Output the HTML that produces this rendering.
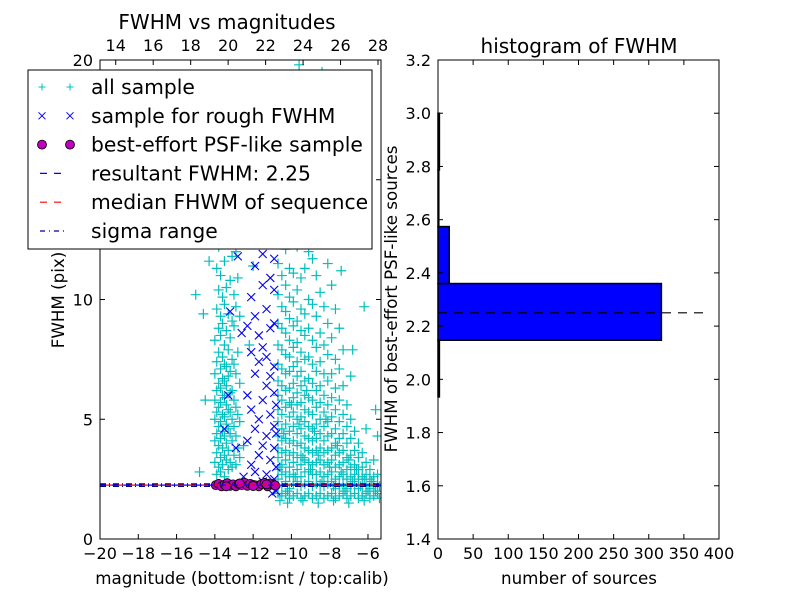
<!DOCTYPE html>
<html><head><meta charset="utf-8">
<style>
html,body{margin:0;padding:0;background:#fff;}
svg{display:block;font-family:"DejaVu Sans","Liberation Sans",sans-serif;}
</style></head>
<body>
<svg id="fig" width="800" height="600" viewBox="0 0 800 600" xmlns="http://www.w3.org/2000/svg">
<rect width="800" height="600" fill="#fff"/>
<g id="left"></g>
<g id="right"></g>
</svg>
<script>
// ---------- data ----------
const xTicksBottom = [-20,-18,-16,-14,-12,-10,-8,-6];
const xTicksTop = [14,16,18,20,22,24,26,28];
const yTicksLeft = [0,5,10,15,20];
const cyanMags = [-14.0,-13.9,-13.8,-13.7,-13.6,-13.5,-13.4,-13.3,-13.2,-13.1,-13.0,-12.9,-12.8,-12.7,
 -10.7,-10.5,-10.3,-10.1,-9.9,-9.7,-9.5,-9.3,-9.1,-8.9,-8.7,-8.5,-8.3,-8.1,-7.9,-7.7,-7.5,-7.3,-7.1,-6.9,-6.7,-6.5,-6.3,-6.1,-5.9,-5.7,-5.5];
const cyanFwhmCols = [
[3.2,4.1,5.0,5.8,6.9,8.3],
[2.7,3.6,4.4,5.3,6.2,7.4,9.6,11.3],
[3.0,3.9,4.7,5.5,6.5,7.8,8.8,10.4,12.2],
[2.8,3.4,4.2,4.9,5.7,6.3,7.1,8.5,9.3,11.0],
[3.1,3.8,4.5,5.2,6.0,6.7,7.6,9.0,10.1],
[2.6,3.5,4.3,5.1,5.9,6.6,7.3,8.1,9.8,11.6,13.0],
[3.3,4.0,4.8,5.6,6.4,7.2,8.7,10.5],
[2.9,3.7,4.6,5.4,6.8,7.9,9.4,12.5],
[3.2,4.4,5.3,6.1,7.0,8.4,10.8],
[3.0,4.1,5.0,6.2,7.5,9.1,11.8,14.0],
[3.5,4.7,5.8,7.3,8.9,10.2],
[3.1,4.3,5.5,6.9,9.7,12.0],
[3.8,5.2,7.8,10.9,13.2],
[3.4,4.9,6.5,9.3],
[1.9,2.5,2.9,3.4,3.8,4.3,4.9,5.4,6.0,6.6,7.3,8.1,9.0,10.2,11.5,12.8],
[1.8,2.2,2.7,3.1,3.6,4.1,4.6,5.2,5.8,6.4,7.1,7.9,8.8,9.7,11.0,13.4],
[1.9,2.4,2.8,3.3,3.7,4.2,4.8,5.5,6.2,6.9,7.7,8.6,9.5,10.6,12.1,14.7],
[1.7,2.1,2.6,3.0,3.5,4.0,4.5,5.1,5.7,6.3,7.0,7.6,8.3,9.2,10.1,11.3,12.6,15.8],
[1.8,2.3,2.7,3.2,3.6,4.1,4.7,5.3,5.9,6.5,7.2,8.0,8.9,9.9,11.1,13.0,17.2],
[1.9,2.4,2.9,3.4,3.9,4.4,5.0,5.6,6.1,6.8,7.4,8.2,9.1,10.4,12.2,14.4,18.6],
[1.7,2.2,2.6,3.1,3.5,4.0,4.6,5.1,5.7,6.4,7.0,7.8,8.7,9.6,10.9,12.7,15.3],
[1.8,2.3,2.8,3.3,3.8,4.3,4.9,5.4,6.0,6.6,7.5,8.5,9.4,11.3,13.6,16.5],
[1.9,2.4,2.8,3.2,3.7,4.2,4.7,5.3,5.9,6.7,7.6,8.8,10.0,12.0,14.9],
[1.7,2.2,2.7,3.1,3.6,4.1,4.6,5.2,5.8,6.5,7.3,8.3,9.8,11.7,13.5],
[1.8,2.3,2.7,3.2,3.7,4.2,4.8,5.5,6.2,7.0,8.0,9.3,11.0,17.8],
[1.9,2.3,2.8,3.3,3.8,4.4,5.0,5.7,6.4,7.4,8.6,10.3,12.6],
[1.7,2.2,2.6,3.1,3.6,4.1,4.7,5.3,6.0,6.9,8.1,9.7,15.1],
[1.8,2.3,2.7,3.2,3.7,4.3,4.9,5.6,6.6,7.7,9.0,11.5],
[1.9,2.4,2.8,3.3,3.8,4.4,5.1,5.9,6.9,8.4,10.6],
[1.7,2.1,2.5,3.0,3.5,4.0,4.6,5.4,6.3,7.5,9.6],
[1.8,2.2,2.6,3.1,3.6,4.2,4.9,5.8,7.1,8.8],
[1.9,2.3,2.7,3.2,3.7,4.4,5.2,6.4,7.9],
[1.7,2.1,2.5,2.9,3.4,4.0,4.7,5.6],
[1.8,2.2,2.6,3.0,3.5,4.2,5.0,6.8],
[1.9,2.3,2.7,3.1,3.7,4.5],
[1.7,2.1,2.5,2.9,3.4,4.0],
[1.8,2.2,2.6,3.0,3.6],
[1.9,2.3,2.7,3.2,4.6],
[1.7,2.1,2.5,2.9],
[1.8,2.2,2.6,3.3],
[1.9,2.3,2.7]
];
const cyanExtra = [[-14.5,5.8],[-14.6,9.4],[-15,10.2],[-14.3,11.6],[-14.8,2.8],[-12.5,3.9],[-12.2,8.1],[-12.0,11.4],[-11.6,12.8],
[-11.2,13.4],[-12.4,14.1],[-11.8,15.2],[-11.0,16.4],[-12.6,17.8],[-11.4,19.0],[-10.6,3.0],[-10.4,4.4],[-10.2,2.0],[-10.0,5.6],
[-9.8,2.6],[-9.6,4.8],[-9.4,3.4],[-9.2,6.2],[-9.0,2.9],[-8.8,4.5],[-8.6,3.5],[-8.4,2.4],[-8.2,5.0],[-8.0,3.0],[-7.8,2.2],
[-7.6,3.9],[-7.4,2.8],[-7.2,2.0],[-7.0,3.3],[-6.8,2.4],[-6.6,2.9],[-6.4,2.2],[-6.2,2.5],[-6.0,2.0],[-5.8,2.4],[-5.6,2.0],
[-5.4,2.2],[-7.4,11.2],[-6.2,9.7],[-6.8,7.9],[-5.6,5.4],[-5.5,4.3],[-7.0,12.5],[-8.4,19.5],[-9.6,19.8],[-8.0,18.2],
[-10.6,1.6],[-10.2,1.5],[-9.4,1.6],[-8.6,1.5],[-7.8,1.6],[-7.0,1.5],[-6.2,1.6],[-5.4,1.7]];
const roughMags = [-12.3,-12.1,-11.9,-11.7,-11.5,-11.3,-11.1,-10.9,-10.8];
const roughFwhmCols = [
[4.1,6.0,8.9],
[3.1,5.4,7.8,10.1],
[2.8,4.6,6.9,9.3,11.4],
[3.5,5.0,7.4,8.5],
[2.4,3.9,5.8,8.0,10.6,11.9],
[2.7,4.3,6.4,7.6,9.6],
[2.2,3.3,5.2,6.8,8.8,10.9,12.3],
[2.5,3.8,4.7,6.1,7.2,9.0,10.4,11.7],
[2.0,3.0,4.4,5.6]
];
const roughExtra = [[-12.8,11.8],[-13.3,6.0],[-13.5,4.6],[-12.6,8.6],[-13.2,9.5],[-12.9,3.8],[-12.5,2.6],[-11.0,1.9]];
const bestMag = [-13.95,-13.8,-13.65,-13.5,-13.35,-13.2,-13.05,-12.9,-12.75,-12.6,-12.45,-12.3,-12.15,-12.0,-11.85,-11.7,-11.55,-11.4,-11.25,-11.1,-10.95,-10.85,-13.4,-12.7,-12.0,-11.3];
const bestFwhm = [2.25,2.3,2.2,2.27,2.33,2.22,2.28,2.2,2.3,2.25,2.35,2.22,2.3,2.26,2.24,2.2,2.3,2.34,2.2,2.32,2.26,2.24,2.2,2.32,2.21,2.28];
const resultantFwhm = 2.25;
const medianFwhm = 2.25;
const sigmaRange = [2.2,2.3];
const histEdges = [1.934,2.147,2.360,2.574,2.787,3.0];
const histCounts = [2,318,16,1,2];
const hxTicks = [0,50,100,150,200,250,300,350,400];
const hyTicks = [1.4,1.6,1.8,2.0,2.2,2.4,2.6,2.8,3.0,3.2];

const NS='http://www.w3.org/2000/svg';
function mk(tag, attrs, parent){const e=document.createElementNS(NS,tag);for(const k in attrs)e.setAttribute(k,attrs[k]);parent.appendChild(e);return e;}
const L = document.getElementById('left'), R = document.getElementById('right');
const lx0=100,lx1=381,ly0=60,ly1=539;
const xMin=-20,xMax=-5.32,yMin=0,yMax=20;
const sx=v=>lx0+(v-xMin)/(xMax-xMin)*(lx1-lx0);
const sy=v=>ly1-(v-yMin)/(yMax-yMin)*(ly1-ly0);
const tMin=13.16,tMax=28.16;
const tx=v=>lx0+(v-tMin)/(tMax-tMin)*(lx1-lx0);

const clip=mk('clipPath',{id:'lclip'},L);mk('rect',{x:lx0,y:ly0,width:lx1-lx0,height:ly1-ly0},clip);
const pts=mk('g',{'clip-path':'url(#lclip)'},L);



function plus(m,f){
  const x=sx(m),y=sy(f);
  const e=mk('path',{d:`M${x-5},${y}H${x+5}M${x},${y-5}V${y+5}`,stroke:'#00bfbf','stroke-width':1.2},pts);
  
  
}
function cross(m,f){
  const x=sx(m),y=sy(f);
  const e=mk('path',{d:`M${x-4},${y-4}L${x+4},${y+4}M${x-4},${y+4}L${x+4},${y-4}`,stroke:'#0000ff','stroke-width':1.1},pts);
  
  
}
cyanMags.forEach((m,i)=>cyanFwhmCols[i].forEach(f=>plus(m,f)));
cyanExtra.forEach(p=>plus(p[0],p[1]));
roughMags.forEach((m,i)=>roughFwhmCols[i].forEach(f=>cross(m,f)));
roughExtra.forEach(p=>cross(p[0],p[1]));

function hline(v,color,dash,name,off){
  const e=mk('line',{x1:lx0+(off||0),x2:lx1,y1:sy(v),y2:sy(v),stroke:color,'stroke-dasharray':dash,'stroke-width':1.3},pts);
  
  
}
hline(sigmaRange[0],'#00008b','6,3,1,3','sigma-low-line');
hline(sigmaRange[1],'#00008b','6,3,1,3','sigma-high-line');
bestMag.forEach((m,i)=>{
  const e=mk('circle',{cx:sx(m),cy:sy(bestFwhm[i]),r:4.5,fill:'#bf00bf',stroke:'#000','stroke-width':0.8},pts);
  
  
});
hline(resultantFwhm,'#0000ff','6,6','resultant-fwhm-line');
hline(medianFwhm,'#ff0000','6,6','median-fwhm-line',6);

const lf=mk('rect',{x:lx0,y:ly0,width:lx1-lx0,height:ly1-ly0,fill:'none',stroke:'#000','stroke-width':1},L);


xTicksBottom.forEach(v=>{
  const x=sx(v);
  mk('line',{x1:x,x2:x,y1:ly1,y2:ly1-5,stroke:'#000'},L);
  const t=mk('text',{x:x,y:ly1+20,'font-size':16,'text-anchor':'middle'},L);t.textContent='\u2212'+Math.abs(v);
  
  
});
xTicksTop.forEach(v=>{
  const x=tx(v);
  mk('line',{x1:x,x2:x,y1:ly0,y2:ly0+5,stroke:'#000'},L);
  const t=mk('text',{x:x,y:ly0-9,'font-size':16,'text-anchor':'middle'},L);t.textContent=v;
  
  
});
yTicksLeft.forEach(v=>{
  const y=sy(v);
  mk('line',{x1:lx0,x2:lx0+5,y1:y,y2:y,stroke:'#000'},L);
  mk('line',{x1:lx1,x2:lx1-5,y1:y,y2:y,stroke:'#000'},L);
  const t=mk('text',{x:lx0-7,y:y+6,'font-size':16,'text-anchor':'end'},L);t.textContent=v;
  
  
});
</script>
<script>
(function(){
const fig=document.getElementById('fig');
const NS='http://www.w3.org/2000/svg';
function mk(tag, attrs, parent){const e=document.createElementNS(NS,tag);for(const k in attrs)e.setAttribute(k,attrs[k]);parent.appendChild(e);return e;}
const L=document.getElementById('left');
function txt(x,y,s,size,anchor,name,parent,rot){const t=mk('text',{x:x,y:y,'font-size':size,'text-anchor':anchor},parent||fig);if(rot)t.setAttribute('transform',`rotate(-90 ${x} ${y})`);t.textContent=s;

return t;}
txt(227,29,'FWHM vs magnitudes',20,'middle','left-title',L);
txt(242,584,'magnitude (bottom:isnt / top:calib)',16.7,'middle','left-x-axis-title',L);
txt(64,300,'FWHM (pix)',16.7,'middle','left-y-axis-title',L,true);
const lg=mk('g',{},L);


mk('rect',{x:28,y:70,width:344,height:179,fill:'#fff',stroke:'#000','stroke-width':1},lg);
const rows=[['all sample','plus'],['sample for rough FWHM','x'],['best-effort PSF-like sample','o'],['resultant FWHM: 2.25','blue'],['median FHWM of sequence','red'],['sigma range','dashdot']];
rows.forEach((r,i)=>{
  const y=87+i*28.8;
  const g=mk('g',{},lg);
  
  
  [42,70].forEach(x=>{
    if(r[1]==='plus')mk('path',{d:`M${x-3.5},${y}H${x+3.5}M${x},${y-3.5}V${y+3.5}`,stroke:'#00bfbf'},g);
    if(r[1]==='x')mk('path',{d:`M${x-3.5},${y-3.5}L${x+3.5},${y+3.5}M${x-3.5},${y+3.5}L${x+3.5},${y-3.5}`,stroke:'#0000ff'},g);
    if(r[1]==='o')mk('circle',{cx:x,cy:y,r:4.5,fill:'#bf00bf',stroke:'#000','stroke-width':0.8},g);
  });
  if(r[1]==='blue')mk('line',{x1:40,x2:68,y1:y,y2:y,stroke:'#0000ff','stroke-dasharray':'7,7','stroke-width':1.2},g);
  if(r[1]==='red')mk('line',{x1:40,x2:68,y1:y,y2:y,stroke:'#ff0000','stroke-dasharray':'7,7','stroke-width':1.2},g);
  if(r[1]==='dashdot')mk('line',{x1:40,x2:68,y1:y,y2:y,stroke:'#00008b','stroke-dasharray':'5,4,1,4','stroke-width':1.2},g);
  const t=mk('text',{x:91,y:y+7,'font-size':20.3},g);t.textContent=r[0];
});
})();
</script>
<script>
(function(){
const NS='http://www.w3.org/2000/svg';
function mk(tag, attrs, parent){const e=document.createElementNS(NS,tag);for(const k in attrs)e.setAttribute(k,attrs[k]);parent.appendChild(e);return e;}
const R=document.getElementById('right');
const rx0=438,rx1=719,ry0=60,ry1=539;
const hx=v=>rx0+v/400*(rx1-rx0);
const hy=v=>ry1-(v-1.4)/(3.2-1.4)*(ry1-ry0);
histCounts.forEach((c,i)=>{
  const y0=hy(histEdges[i+1]),y1=hy(histEdges[i]);
  const b=mk('rect',{x:rx0,y:y0,width:Math.max(hx(c)-rx0,0.8),height:y1-y0,fill:'#0000ff',stroke:'#000','stroke-width':1.5},R);
  
  
});
const dl=mk('line',{x1:rx0,x2:rx0+(rx1-rx0)*0.965,y1:hy(resultantFwhm),y2:hy(resultantFwhm),stroke:'#000','stroke-dasharray':'9,7','stroke-width':1.2},R);


const f=mk('rect',{x:rx0,y:ry0,width:rx1-rx0,height:ry1-ry0,fill:'none',stroke:'#000','stroke-width':1},R);


hxTicks.forEach(v=>{
  const x=hx(v);
  mk('line',{x1:x,x2:x,y1:ry1,y2:ry1-5,stroke:'#000'},R);
  mk('line',{x1:x,x2:x,y1:ry0,y2:ry0+5,stroke:'#000'},R);
  const t=mk('text',{x:x,y:ry1+20,'font-size':16,'text-anchor':'middle'},R);t.textContent=v;
  
  
});
hyTicks.forEach(v=>{
  const y=hy(v);
  mk('line',{x1:rx0,x2:rx0+5,y1:y,y2:y,stroke:'#000'},R);
  mk('line',{x1:rx1,x2:rx1-5,y1:y,y2:y,stroke:'#000'},R);
  const t=mk('text',{x:rx0-7,y:y+6,'font-size':16,'text-anchor':'end'},R);t.textContent=v.toFixed(1);
  
  
});
function txt(x,y,s,size,name,rot){const t=mk('text',{x:x,y:y,'font-size':size,'text-anchor':'middle'},R);if(rot)t.setAttribute('transform',`rotate(-90 ${x} ${y})`);t.textContent=s;

}
txt(579,53,'histogram of FWHM',20,'right-title');
txt(579,584,'number of sources',16.7,'right-x-axis-title');
txt(397,299,'FWHM of best-effort PSF-like sources',16.7,'right-y-axis-title',true);
})();
</script>
</body></html>
